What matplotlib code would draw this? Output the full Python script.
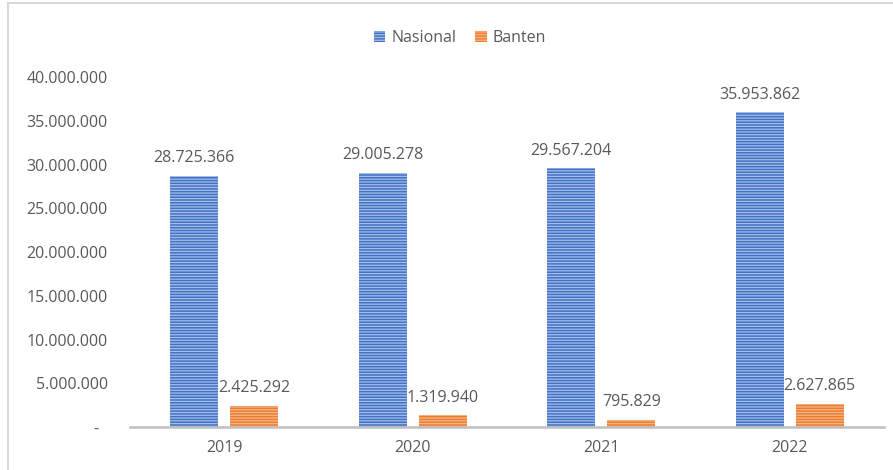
import numpy as np
import matplotlib
matplotlib.use("Agg")
from matplotlib import pyplot as plt
from matplotlib.lines import Line2D

# data
years = ["2019", "2020", "2021", "2022"]
nasional = [28725366, 29005278, 29567204, 35953862]
banten = [2425292, 1319940, 795829, 2627865]
yticks = [0, 5000000, 10000000, 15000000, 20000000, 25000000, 30000000, 35000000, 40000000]


def fmt(v):
    if v == 0:
        return "-  "
    return f"{v:,}".replace(",", ".")


plt.rcParams['font.family'] = ['Open Sans', 'DejaVu Sans']
plt.rcParams['hatch.linewidth'] = 0.9

grey = '#595959'
fig = plt.figure(figsize=(8.93, 4.70), dpi=100)
ax = fig.add_axes([130 / 893, 1 - 427 / 470, 754 / 893, 350 / 470])

x = np.arange(len(years))
w = 0.254
off = 0.159

b1 = ax.bar(x - off, nasional, w, facecolor='#4472C4', edgecolor='#A4BDEA',
            linewidth=0, hatch='------', label='Nasional')
b2 = ax.bar(x + off, banten, w, facecolor='#ED7D31', edgecolor='#F7B686',
            linewidth=0, hatch='------', label='Banten')

for bars, vals in ((b1, nasional), (b2, banten)):
    for rect, v in zip(bars, vals):
        ax.annotate(fmt(v), (rect.get_x() + rect.get_width() / 2, v),
                    xytext=(0, 7), textcoords='offset points',
                    ha='center', va='bottom', fontsize=11.5, color=grey)

ax.set_xlim(-0.5, len(years) - 0.5)
ax.set_ylim(0, 40000000)
ax.set_xticks(x)
ax.set_xticklabels(years)
ax.set_yticks(yticks)
ax.set_yticklabels([fmt(v) for v in yticks])
ax.tick_params(axis='both', length=0, labelsize=11.5, labelcolor=grey)
ax.tick_params(axis='y', pad=16)
ax.tick_params(axis='x', pad=9)

for s in ('top', 'right', 'left'):
    ax.spines[s].set_visible(False)
ax.spines['bottom'].set_color('#BFBFBF')
ax.spines['bottom'].set_linewidth(1.8)

fig.legend(loc='center', bbox_to_anchor=(460 / 893, 1 - 38 / 470), ncol=2,
           frameon=False, fontsize=11.5, handlelength=0.7, handleheight=0.7,
           handletextpad=0.4, columnspacing=1.2, labelcolor=grey)

# outer chart border (only top and left visible in the crop)
fig.add_artist(Line2D([7.5 / 893, 1], [1 - 2.5 / 470, 1 - 2.5 / 470],
                      transform=fig.transFigure, color='#D9D9D9', linewidth=1.5))
fig.add_artist(Line2D([7.5 / 893, 7.5 / 893], [0, 1 - 2.5 / 470],
                      transform=fig.transFigure, color='#D9D9D9', linewidth=1.5))

fig.savefig('out.png', dpi=100, facecolor='white')
